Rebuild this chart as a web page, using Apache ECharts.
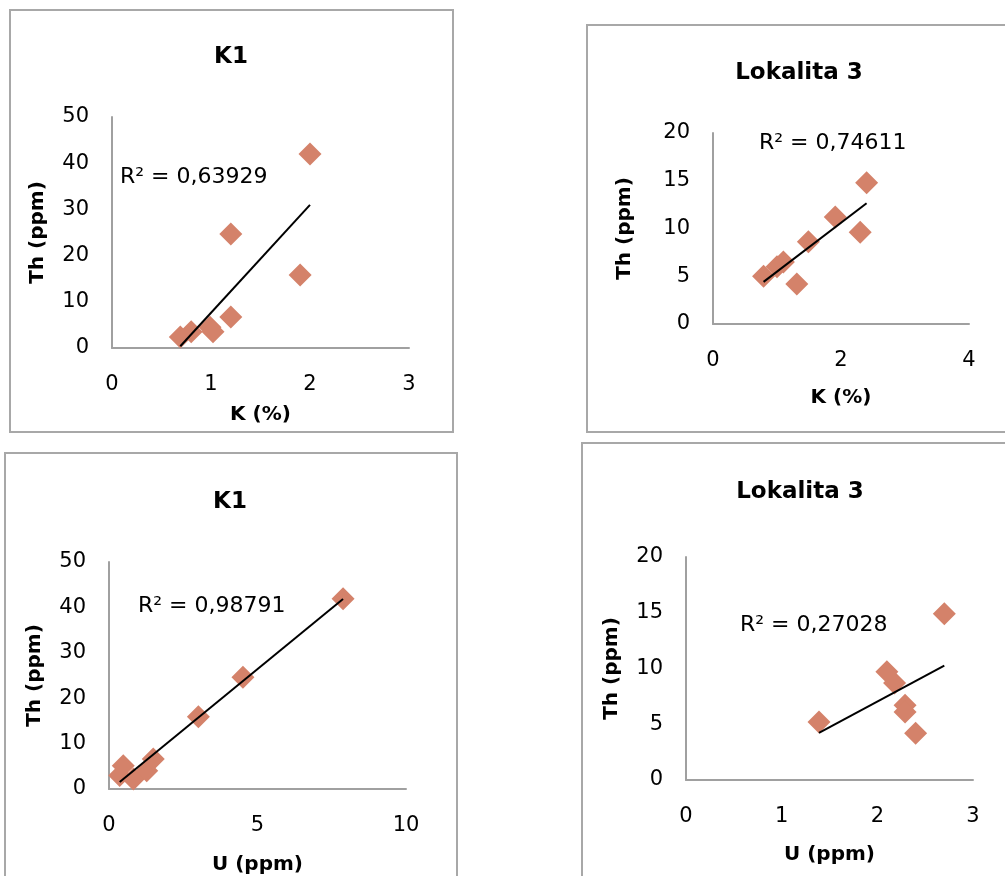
<!DOCTYPE html>
<html>
<head>
<meta charset="utf-8">
<script src="https://cdn.jsdelivr.net/npm/echarts@6/dist/echarts.min.js"></script>
<style>
  html, body { margin: 0; padding: 0; background: #fff; overflow: hidden; }
  #c { width: 1005px; height: 876px; }
</style>
</head>
<body>
<div id="c"></div>
<script>
// K1: Th against K
const k1K     = [0.69, 0.80, 0.99, 1.02, 1.20, 1.20, 1.90, 2.00];
const k1ThK   = [2.4, 3.5, 4.5, 3.5, 6.7, 24.7, 15.8, 42.0];
// Lokalita 3: Th against K
const lok3K   = [0.79, 1.00, 1.10, 1.31, 1.49, 1.91, 2.30, 2.40];
const lok3ThK = [5.0, 6.0, 6.5, 4.2, 8.6, 11.2, 9.6, 14.8];
// K1: Th against U
const k1U     = [0.36, 0.48, 0.82, 1.27, 1.49, 3.01, 4.51, 7.88];
const k1ThU   = [3.0, 5.1, 2.2, 4.0, 6.6, 15.9, 24.6, 41.9];
// Lokalita 3: Th against U
const lok3U   = [1.39, 2.10, 2.18, 2.29, 2.29, 2.40, 2.70];
const lok3ThU = [5.2, 9.7, 8.7, 6.7, 6.1, 4.2, 14.9];

const titles   = ['K1', 'Lokalita 3', 'K1', 'Lokalita 3'];
const r2Labels = ['R² = 0,63929', 'R² = 0,74611', 'R² = 0,98791', 'R² = 0,27028'];
const xNames   = ['K (%)', 'K (%)', 'U (ppm)', 'U (ppm)'];
const yName    = 'Th (ppm)';
const xTicks   = [[0, 3, 1], [0, 4, 2], [0, 10, 5], [0, 3, 1]];   // min, max, step
const yTicks   = [[0, 50, 10], [0, 20, 5], [0, 50, 10], [0, 20, 5]];

const panelsData = [
  [k1K, k1ThK],
  [lok3K, lok3ThK],
  [k1U, k1ThU],
  [lok3U, lok3ThU]
];

// page layout of the four charts
const layout = [
  { frame: [10, 10, 443, 422],  grid: [112, 117, 297, 231], title: [231, 57],  r2: [120, 177], xGap: 67, yGap: 74 },
  { frame: [587, 25, 500, 407], grid: [713, 133, 256, 191], title: [799, 73],  r2: [759, 143], xGap: 74, yGap: 88 },
  { frame: [5, 453, 452, 500],  grid: [109, 562, 297, 228], title: [230, 502], r2: [138, 606], xGap: 76, yGap: 74 },
  { frame: [582, 443, 500, 500], grid: [686, 557, 287, 223], title: [800, 492], r2: [740, 625], xGap: 75, yGap: 74 }
];

const FONT = 'DejaVu Sans';
const MARK = '#D4826A';
const AXIS = '#a0a0a0';
const FRAME = '#a8a8a8';

// least-squares fit, drawn between the smallest and largest x
function trend(xs, ys) {
  const n = xs.length;
  const mx = xs.reduce((a, b) => a + b, 0) / n;
  const my = ys.reduce((a, b) => a + b, 0) / n;
  let sxy = 0, sxx = 0;
  for (let i = 0; i < n; i++) {
    sxy += (xs[i] - mx) * (ys[i] - my);
    sxx += (xs[i] - mx) * (xs[i] - mx);
  }
  const b = sxy / sxx, a = my - b * mx;
  const x0 = Math.min(...xs), x1 = Math.max(...xs);
  return [[x0, a + b * x0], [x1, a + b * x1]];
}

const grid = [], xAxis = [], yAxis = [], series = [], graphic = [];

layout.forEach((L, i) => {
  grid.push({ left: L.grid[0], top: L.grid[1], width: L.grid[2], height: L.grid[3] });
  xAxis.push({
    gridIndex: i, type: 'value',
    min: xTicks[i][0], max: xTicks[i][1], interval: xTicks[i][2],
    name: xNames[i], nameLocation: 'middle', nameGap: L.xGap,
    nameTextStyle: { fontFamily: FONT, fontSize: 20, fontWeight: 'bold', color: '#000', verticalAlign: 'middle' },
    axisLine: { lineStyle: { color: AXIS, width: 2 } },
    axisTick: { show: false },
    splitLine: { show: false },
    axisLabel: { fontFamily: FONT, fontSize: 21, color: '#000', margin: 26 }
  });
  yAxis.push({
    gridIndex: i, type: 'value',
    min: yTicks[i][0], max: yTicks[i][1], interval: yTicks[i][2],
    name: yName, nameLocation: 'middle', nameGap: L.yGap,
    nameTextStyle: { fontFamily: FONT, fontSize: 20, fontWeight: 'bold', color: '#000', verticalAlign: 'middle' },
    axisLine: { show: true, lineStyle: { color: AXIS, width: 2 } },
    axisTick: { show: false },
    splitLine: { show: false },
    axisLabel: { fontFamily: FONT, fontSize: 21, color: '#000', margin: 23 }
  });
  const [xs, ys] = panelsData[i];
  series.push({
    type: 'scatter', xAxisIndex: i, yAxisIndex: i,
    data: xs.map((x, j) => [x, ys[j]]),
    symbol: 'diamond', symbolSize: 23,
    itemStyle: { color: MARK, opacity: 1 },
    z: 2
  });
  series.push({
    type: 'line', xAxisIndex: i, yAxisIndex: i,
    data: trend(xs, ys),
    symbol: 'none', silent: true,
    lineStyle: { color: '#000', width: 2 },
    z: 3
  });
  graphic.push({
    type: 'rect', z: 0, silent: true,
    shape: { x: L.frame[0], y: L.frame[1], width: L.frame[2], height: L.frame[3] },
    style: { fill: 'none', stroke: FRAME, lineWidth: 2 }
  });
  graphic.push({
    type: 'text', z: 10, x: L.title[0], y: L.title[1],
    style: { text: titles[i], fontFamily: FONT, fontSize: 23, fontWeight: 'bold', fill: '#000', align: 'center', verticalAlign: 'middle' }
  });
  graphic.push({
    type: 'text', z: 10, x: L.r2[0], y: L.r2[1],
    style: { text: r2Labels[i], fontFamily: FONT, fontSize: 22, fill: '#000', align: 'left', verticalAlign: 'middle' }
  });
});

const chart = echarts.init(document.getElementById('c'), null, { renderer: 'canvas' });
chart.setOption({
  backgroundColor: '#fff',
  animation: false,
  grid, xAxis, yAxis, series, graphic
});
</script>
</body>
</html>
